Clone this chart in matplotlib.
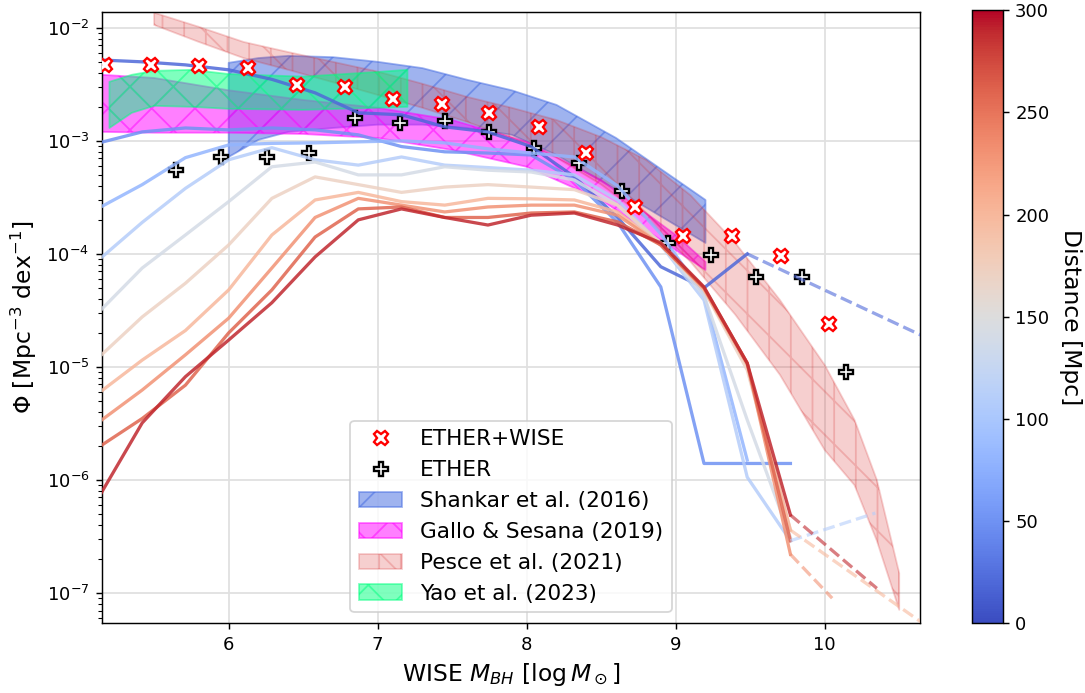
import matplotlib
matplotlib.use("Agg")
import matplotlib.pyplot as plt
import numpy as np

# black-hole mass bins used by the distance-limited mass functions
mbh = [5.13, 5.42, 5.71, 6.00, 6.29, 6.58, 6.87, 7.16, 7.45, 7.74,
       8.03, 8.32, 8.61, 8.90, 9.19, 9.48, 9.77]

distances = [20, 50, 80, 110, 140, 170, 200, 230, 260, 290]

phi_d = [
    [5.2e-3, 5.0e-3, 4.7e-3, 4.25e-3, 3.5e-3, 2.66e-3, 1.77e-3, 1.70e-3, 1.33e-3, 1.2e-3,
     8.9e-4, 4.8e-4, 2.1e-4, 7.7e-5, 5.0e-5, 1.0e-4],
    [9.6e-4, 1.2e-3, 1.3e-3, 1.25e-3, 1.3e-3, 1.25e-3, 1.13e-3, 8.9e-4, 8.0e-4, 7.8e-4,
     7.5e-4, 4.5e-4, 1.9e-4, 5.1e-5, 1.4e-6, 1.4e-6, 1.4e-6],
    [2.55e-4, 4.1e-4, 7.1e-4, 9.2e-4, 9.5e-4, 9.6e-4, 9.8e-4, 1.0e-3, 9.6e-4, 8.5e-4,
     7.8e-4, 7.2e-4, 4.0e-4, 1.5e-4, 4.3e-5, 1.5e-6],
    [8.9e-5, 1.9e-4, 3.8e-4, 6.8e-4, 8.7e-4, 6.8e-4, 6.1e-4, 7.2e-4, 6.1e-4, 5.8e-4,
     5.5e-4, 5.0e-4, 3.0e-4, 1.2e-4, 3.9e-5, 1.06e-6, 2.9e-7],
    [3.07e-5, 7.5e-5, 1.47e-4, 2.9e-4, 5.9e-4, 6.5e-4, 5.0e-4, 5.0e-4, 5.9e-4, 5.5e-4,
     5.3e-4, 4.5e-4, 2.7e-4, 1.2e-4, 4.3e-5, 3.4e-6, 3.1e-7],
    [1.22e-5, 2.77e-5, 5.5e-5, 1.2e-4, 3.1e-4, 4.8e-4, 4.1e-4, 3.5e-4, 3.9e-4, 4.1e-4,
     3.9e-4, 3.7e-4, 2.7e-4, 1.25e-4, 4.8e-5, 9.4e-6, 3.6e-7],
    [5.9e-6, 1.15e-5, 2.1e-5, 4.8e-5, 1.47e-4, 3.0e-4, 3.5e-4, 2.9e-4, 2.7e-4, 3.1e-4,
     3.07e-4, 3.0e-4, 2.35e-4, 1.2e-4, 4.8e-5, 1.04e-5, 3.6e-7],
    [3.26e-6, 6.25e-6, 1.28e-5, 2.7e-5, 7.5e-5, 2.1e-4, 3.1e-4, 2.7e-4, 2.35e-4, 2.6e-4,
     2.7e-4, 2.7e-4, 2.2e-4, 1.2e-4, 5.0e-5, 1.08e-5, 2.2e-7],
    [1.96e-6, 3.5e-6, 6.9e-6, 2.0e-5, 4.8e-5, 1.41e-4, 2.5e-4, 2.6e-4, 2.1e-4, 2.1e-4,
     2.3e-4, 2.35e-4, 1.92e-4, 1.2e-4, 5.0e-5, 1.08e-5, 2.9e-7],
    [7.1e-7, 3.2e-6, 8.2e-6, 1.73e-5, 3.7e-5, 9.4e-5, 2.0e-4, 2.5e-4, 2.1e-4, 1.8e-4,
     2.2e-4, 2.3e-4, 1.8e-4, 1.25e-4, 5.1e-5, 1.08e-5, 4.9e-7],
]

# dashed extrapolations (index of distance curve, x pair, phi pair)
ext_idx = [0, 3, 6, 7, 9]
ext_x = [[9.48, 10.65], [9.77, 10.34], [9.77, 10.65], [9.77, 10.05], [9.77, 10.35]]
ext_phi = [[1.0e-4, 1.9e-5], [2.9e-7, 5.1e-7], [3.6e-7, 5.5e-8], [2.2e-7, 9.0e-8],
           [4.9e-7, 1.1e-7]]

# ETHER+WISE and ETHER points
ew_x = [5.17, 5.48, 5.80, 6.13, 6.46, 6.78, 7.10, 7.43, 7.75, 8.08, 8.40, 8.73,
        9.05, 9.38, 9.71, 10.03]
ew_phi = [4.7e-3, 4.7e-3, 4.6e-3, 4.4e-3, 3.1e-3, 3.0e-3, 2.35e-3, 2.1e-3, 1.77e-3,
          1.33e-3, 7.8e-4, 2.6e-4, 1.44e-4, 1.44e-4, 9.6e-5, 2.4e-5]
eth_x = [5.65, 5.95, 6.26, 6.54, 6.85, 7.15, 7.45, 7.75, 8.05, 8.35, 8.64, 8.95,
         9.24, 9.54, 9.85, 10.14]
eth_phi = [5.5e-4, 7.2e-4, 7.2e-4, 7.8e-4, 1.6e-3, 1.44e-3, 1.5e-3, 1.2e-3, 8.7e-4,
           6.4e-4, 3.6e-4, 1.25e-4, 9.8e-5, 6.25e-5, 6.25e-5, 9.0e-6]

# literature bands
sh_x = [6.0, 6.2, 6.4, 6.7, 7.0, 7.3, 7.6, 7.9, 8.2, 8.6, 9.2]
sh_hi = [4.9e-3, 5.4e-3, 5.65e-3, 5.5e-3, 5.0e-3, 4.4e-3, 3.47e-3, 2.8e-3, 2.08e-3,
         1.06e-3, 3.0e-4]
sh_lo = [7.2e-4, 1.02e-3, 1.2e-3, 1.3e-3, 1.39e-3, 1.39e-3, 1.3e-3, 1.13e-3, 7.5e-4,
         3.7e-4, 1.25e-4]

ga_x = [5.15, 5.5, 6.0, 6.5, 7.0, 7.5, 8.0, 8.5, 9.0, 9.2]
ga_hi = [3.84e-3, 3.6e-3, 2.8e-3, 2.3e-3, 1.96e-3, 1.53e-3, 9.8e-4, 4.5e-4, 1.47e-4, 8.5e-5]
ga_lo = [1.2e-3, 1.18e-3, 1.18e-3, 1.15e-3, 1.06e-3, 8.3e-4, 5.9e-4, 3.0e-4, 1.08e-4, 7.2e-5]

pe_x = [5.5, 5.8, 6.1, 6.4, 6.7, 7.0, 7.3, 7.6, 7.9, 8.2, 8.5, 8.8, 9.1, 9.4, 9.7,
        10.0, 10.2, 10.35, 10.5]
pe_hi = [1.36e-2, 1.02e-2, 7.5e-3, 6.1e-3, 5.0e-3, 4.1e-3, 3.2e-3, 2.45e-3, 1.96e-3,
         1.53e-3, 1.08e-3, 6.8e-4, 3.3e-4, 1.25e-4, 3.9e-5, 1.04e-5, 3.4e-6, 1.0e-6, 1.5e-7]
pe_lo = [1.06e-2, 7.5e-3, 5.4e-3, 4.25e-3, 3.3e-3, 2.55e-3, 1.96e-3, 1.47e-3, 1.06e-3,
         7.1e-4, 4.1e-4, 2.08e-4, 8.5e-5, 2.9e-5, 8.5e-6, 1.84e-6, 9.0e-7, 2.9e-7, 7.1e-8]

ya_x = [5.2, 5.35, 5.5, 5.75, 6.0, 6.5, 7.0, 7.2]
ya_hi = [3.33e-3, 3.84e-3, 4.16e-3, 4.25e-3, 3.9e-3, 3.7e-3, 4.07e-3, 4.25e-3]
ya_lo = [1.3e-3, 1.77e-3, 2.04e-3, 2.0e-3, 1.92e-3, 1.88e-3, 1.96e-3, 2.0e-3]

fig = plt.figure(figsize=(1085 / 130, 693 / 130), dpi=130)
ax = fig.add_axes([0.094, 0.101, 0.754, 0.882])
cax = fig.add_axes([0.896, 0.101, 0.028, 0.884])

cmap = plt.get_cmap('coolwarm')
norm = matplotlib.colors.Normalize(vmin=0, vmax=300)

b1 = ax.fill_between(sh_x, sh_lo, sh_hi, color='royalblue', alpha=0.5, hatch='/',
                     lw=1, zorder=2)
b2 = ax.fill_between(ga_x, ga_lo, ga_hi, color='magenta', alpha=0.5, hatch='x',
                     lw=1, zorder=2)
b3 = ax.fill_between(pe_x, pe_lo, pe_hi, color='tab:red', alpha=0.22, hatch='|\\',
                     lw=1, zorder=2)
b4 = ax.fill_between(ya_x, ya_lo, ya_hi, color='springgreen', alpha=0.5, hatch='x',
                     lw=1, zorder=2)

m2, = ax.plot(eth_x, eth_phi, 'P', ms=8, mfc='white', mec='black', mew=1.3,
              ls='none', zorder=3)

for d, phi in zip(distances, phi_d):
    ax.plot(mbh[:len(phi)], phi, color=cmap(norm(d)), lw=1.8, alpha=0.85, zorder=4)

for i, xx, pp in zip(ext_idx, ext_x, ext_phi):
    ax.plot(xx, pp, color=cmap(norm(distances[i])), lw=1.8, ls='--', alpha=0.6, zorder=4)

m1, = ax.plot(ew_x, ew_phi, 'X', ms=8, mfc='white', mec='red', mew=1.3,
              ls='none', zorder=5)

ax.set_yscale('log')
ax.set_xlim(5.15, 10.64)
ax.set_ylim(5.43e-8, 1.386e-2)
ax.set_xticks([6, 7, 8, 9, 10])
ax.grid(True, color='#e0e0e0', lw=1, zorder=0)
ax.set_axisbelow(True)
ax.tick_params(labelsize=10)
ax.set_xlabel(r'WISE $M_{BH}$ [$\log M_\odot$]', fontsize=13)
ax.set_ylabel(r'$\Phi$ [Mpc$^{-3}$ dex$^{-1}$]', fontsize=13)

ax.legend([m1, m2, b1, b2, b3, b4],
          ['ETHER+WISE', 'ETHER', 'Shankar et al. (2016)', 'Gallo & Sesana (2019)',
           'Pesce et al. (2021)', 'Yao et al. (2023)'],
          loc='lower center', fontsize=12)

sm = matplotlib.cm.ScalarMappable(norm=norm, cmap=cmap)
cb = fig.colorbar(sm, cax=cax)
cb.ax.tick_params(labelsize=10)
cb.set_label('Distance [Mpc]', rotation=270, labelpad=18, fontsize=13)

fig.savefig('out.png', dpi=130)
